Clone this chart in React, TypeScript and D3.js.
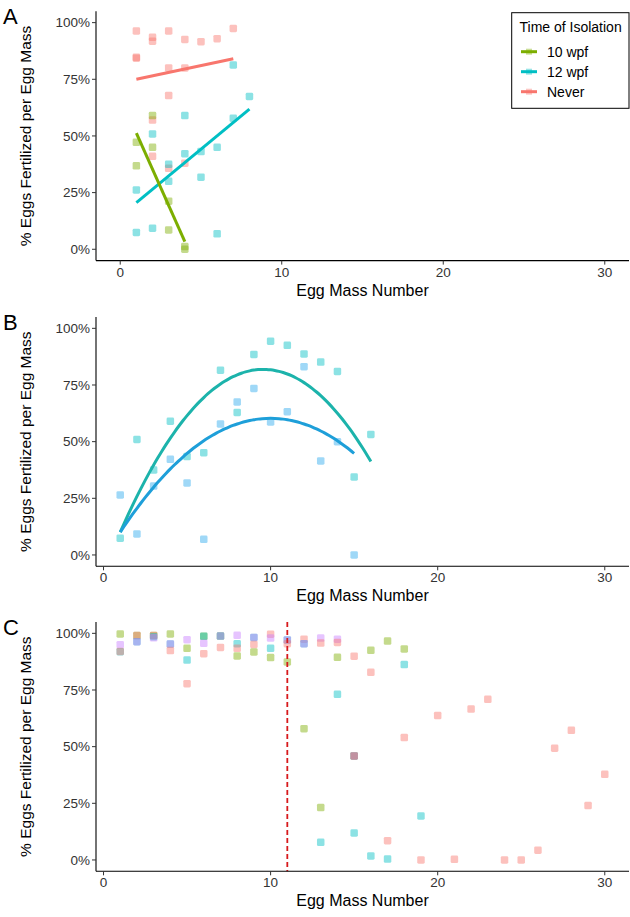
import React from "react";
import * as d3 from "d3";

// ---------- DATA ----------
const groupsA = ["10 wpf", "12 wpf", "Never"];
const colorsA: Record<string, string> = { "10 wpf": "#7CAE00", "12 wpf": "#00BFC4", Never: "#F8766D" };

// Panel A points [x, y, group]
const pointsA: [number, number, string][] = [
  [1, 0.963, "Never"], [1, 0.847, "Never"], [1, 0.843, "Never"],
  [2, 0.935, "Never"], [2, 0.918, "Never"], [2, 0.57, "Never"], [2, 0.41, "Never"],
  [3, 0.963, "Never"], [3, 0.8, "Never"], [3, 0.678, "Never"], [3, 0.357, "Never"],
  [4, 0.926, "Never"], [4, 0.8, "Never"], [4, 0.38, "Never"],
  [5, 0.916, "Never"], [6, 0.929, "Never"], [7, 0.974, "Never"],
  [1, 0.472, "10 wpf"], [1, 0.368, "10 wpf"], [2, 0.59, "10 wpf"], [2, 0.45, "10 wpf"],
  [3, 0.212, "10 wpf"], [3, 0.085, "10 wpf"], [4, 0.012, "10 wpf"], [4, 0.0, "10 wpf"],
  [1, 0.262, "12 wpf"], [1, 0.074, "12 wpf"], [2, 0.509, "12 wpf"], [2, 0.093, "12 wpf"],
  [3, 0.375, "12 wpf"], [3, 0.3, "12 wpf"], [4, 0.59, "12 wpf"], [4, 0.422, "12 wpf"],
  [5, 0.431, "12 wpf"], [5, 0.318, "12 wpf"], [6, 0.45, "12 wpf"], [6, 0.068, "12 wpf"],
  [7, 0.813, "12 wpf"], [7, 0.578, "12 wpf"], [8, 0.674, "12 wpf"],
];
// Panel A linear fits: [group, x0, y0, x1, y1]
const fitsA: [string, number, number, number, number][] = [
  ["Never", 1, 0.75, 7, 0.841],
  ["12 wpf", 1, 0.206, 8, 0.618],
  ["10 wpf", 1, 0.512, 4, 0.034],
];

// Panel B (12 wpf, two females)
const colorsB: Record<string, string> = { F1: "#1CB3AB", F2: "#1E9FD9" };
const pointColorsB: Record<string, string> = { F1: "#00BFC4", F2: "#2AA9EE" };
const pointsB: [number, number, string][] = [
  [1, 0.074, "F1"], [2, 0.51, "F1"], [3, 0.375, "F1"], [4, 0.59, "F1"], [5, 0.434, "F1"],
  [6, 0.451, "F1"], [7, 0.815, "F1"], [8, 0.629, "F1"], [9, 0.885, "F1"], [10, 0.943, "F1"],
  [11, 0.925, "F1"], [12, 0.887, "F1"], [13, 0.851, "F1"], [14, 0.81, "F1"], [15, 0.344, "F1"],
  [16, 0.532, "F1"],
  [1, 0.265, "F2"], [2, 0.093, "F2"], [3, 0.304, "F2"], [4, 0.422, "F2"], [5, 0.318, "F2"],
  [6, 0.069, "F2"], [7, 0.578, "F2"], [8, 0.675, "F2"], [9, 0.735, "F2"], [10, 0.587, "F2"],
  [11, 0.632, "F2"], [12, 0.831, "F2"], [13, 0.415, "F2"], [14, 0.5, "F2"], [15, 0.0, "F2"],
];
// Quadratic fits (vertex form): [group, a, h, k, xStart, xEnd]
const fitsB: [string, number, number, number, number, number][] = [
  ["F1", -0.0098, 9.56, 0.819, 1, 16],
  ["F2", -0.0062, 10, 0.603, 1, 15],
];

// Panel C
const colorsC: Record<string, string> = { g: "#7CAE00", c: "#00BFC4", p: "#F8766D", v: "#C77CFF" };
const pointsC: [number, number, string][] = [
  [1, 0.997, "g"], [1, 0.95, "v"], [1, 0.919, "c"], [1, 0.92, "p"],
  [2, 0.99, "g"], [2, 0.99, "p"], [2, 0.963, "c"], [2, 0.963, "v"],
  [3, 0.99, "g"], [3, 0.99, "p"], [3, 0.985, "c"], [3, 0.98, "v"],
  [4, 0.997, "g"], [4, 0.953, "c"], [4, 0.953, "v"], [4, 0.924, "p"],
  [5, 0.972, "v"], [5, 0.934, "g"], [5, 0.882, "c"], [5, 0.778, "p"],
  [6, 0.987, "g"], [6, 0.987, "c"], [6, 0.956, "v"], [6, 0.91, "p"],
  [7, 0.988, "g"], [7, 0.988, "c"], [7, 0.988, "v"], [7, 0.938, "p"],
  [8, 0.991, "v"], [8, 0.954, "c"], [8, 0.934, "p"], [8, 0.9, "g"],
  [9, 0.982, "c"], [9, 0.982, "v"], [9, 0.951, "p"], [9, 0.918, "g"],
  [10, 0.996, "p"], [10, 0.979, "v"], [10, 0.934, "c"], [10, 0.893, "g"],
  [11, 0.971, "c"], [11, 0.971, "v"], [11, 0.954, "p"], [11, 0.874, "g"],
  [12, 0.974, "p"], [12, 0.954, "c"], [12, 0.954, "v"], [12, 0.579, "g"],
  [13, 0.979, "v"], [13, 0.957, "p"], [13, 0.231, "g"], [13, 0.078, "c"],
  [14, 0.974, "v"], [14, 0.96, "p"], [14, 0.894, "g"], [14, 0.731, "c"],
  [15, 0.899, "p"], [15, 0.459, "g"], [15, 0.459, "c"], [15, 0.459, "v"], [15, 0.459, "p"], [15, 0.119, "c"],
  [16, 0.925, "g"], [16, 0.828, "p"], [16, 0.018, "c"],
  [17, 0.966, "g"], [17, 0.085, "p"], [17, 0.004, "c"],
  [18, 0.931, "g"], [18, 0.862, "c"], [18, 0.54, "p"],
  [19, 0.194, "c"], [19, 0.0, "p"],
  [20, 0.637, "p"], [21, 0.003, "p"], [22, 0.666, "p"], [23, 0.709, "p"],
  [24, 0.0, "p"], [25, 0.0, "p"], [26, 0.043, "p"], [27, 0.493, "p"],
  [28, 0.572, "p"], [29, 0.24, "p"], [30, 0.378, "p"],
];
const cutoffC = [11];

const xTicks = [0, 10, 20, 30];
const yTicks = [0, 0.25, 0.5, 0.75, 1];
const panelLabels = ["A", "B", "C"];
const xTitle = "Egg Mass Number";
const yTitle = "% Eggs Fertilized per Egg Mass";
const legendTitle = "Time of Isolation";

// ---------- LAYOUT ----------
const W = 630, H = 917;
const L = 96, R = 629;
const panels = [
  { top: 11.3, bottom: 260.6, xDomain: [-1.5, 31.5] },
  { top: 317, bottom: 566.3, xDomain: [-0.45, 31.45] },
  { top: 622, bottom: 871.3, xDomain: [-0.45, 31.45] },
];
const FONT = "'Liberation Sans', Arial, Helvetica, sans-serif";
const PT = 7.5;
const ALPHA = 0.45;

function Axes({ p, label }: { p: any; label: string }) {
  const x = d3.scaleLinear().domain(p.xDomain).range([L, R]);
  const y = d3.scaleLinear().domain([-0.05, 1.05]).range([p.bottom, p.top]);
  const fmt = d3.format(".0%");
  return (
    <g>
      <line x1={L} x2={R} y1={p.bottom} y2={p.bottom} stroke="#000" strokeWidth={1.1} />
      <line x1={L} x2={L} y1={p.top} y2={p.bottom} stroke="#000" strokeWidth={1.1} />
      {xTicks.map((t) => (
        <g key={"x" + t}>
          <line x1={x(t)} x2={x(t)} y1={p.bottom} y2={p.bottom + 4} stroke="#333" strokeWidth={1} />
          <text x={x(t)} y={p.bottom + 16} textAnchor="middle" fontSize={13.5} fill="#333">{t}</text>
        </g>
      ))}
      {yTicks.map((t) => (
        <g key={"y" + t}>
          <line x1={L - 4} x2={L} y1={y(t)} y2={y(t)} stroke="#333" strokeWidth={1} />
          <text x={L - 6} y={y(t) + 4.8} textAnchor="end" fontSize={13.5} fill="#333">{fmt(t)}</text>
        </g>
      ))}
      <text x={(L + R) / 2} y={p.bottom + 35} textAnchor="middle" fontSize={16} fill="#000">{xTitle}</text>
      <text transform={`translate(31,${(p.top + p.bottom) / 2}) rotate(-90)`} textAnchor="middle" fontSize={15.5} fill="#000">{yTitle}</text>
      <text x={3} y={p.top + 13} fontSize={22} fill="#000">{label}</text>
    </g>
  );
}

function Pts({ p, data, colors }: { p: any; data: [number, number, string][]; colors: Record<string, string> }) {
  const x = d3.scaleLinear().domain(p.xDomain).range([L, R]);
  const y = d3.scaleLinear().domain([-0.05, 1.05]).range([p.bottom, p.top]);
  return (
    <g>
      {data.map((d, i) => (
        <rect key={i} x={x(d[0]) - PT / 2} y={y(d[1]) - PT / 2} width={PT} height={PT} rx={1.4}
          fill={colors[d[2]]} fillOpacity={ALPHA} />
      ))}
    </g>
  );
}

export default function App() {
  const [pA, pB, pC] = panels;
  const xA = d3.scaleLinear().domain(pA.xDomain).range([L, R]);
  const yA = d3.scaleLinear().domain([-0.05, 1.05]).range([pA.bottom, pA.top]);
  const xB = d3.scaleLinear().domain(pB.xDomain).range([L, R]);
  const yB = d3.scaleLinear().domain([-0.05, 1.05]).range([pB.bottom, pB.top]);
  const xC = d3.scaleLinear().domain(pC.xDomain).range([L, R]);

  const curve = d3.line<number[]>().x((d) => xB(d[0])).y((d) => yB(d[1])).curve(d3.curveBasis);

  return (
    <div style={{ position: "absolute", left: 0, top: 0 }}>
      <svg width={W} height={H} style={{ display: "block", fontFamily: FONT }}>
        <rect x={0} y={0} width={W} height={H} fill="#fff" />
        {/* Panel A */}
        <Pts p={pA} data={pointsA} colors={colorsA} />
        {fitsA.map((f) => (
          <line key={f[0]} x1={xA(f[1])} y1={yA(f[2])} x2={xA(f[3])} y2={yA(f[4])}
            stroke={colorsA[f[0]]} strokeWidth={3} strokeLinecap="butt" />
        ))}
        <Axes p={pA} label={panelLabels[0]} />
        <g>
          <rect x={511.7} y={12.7} width={117.3} height={95.6} fill="#fff" stroke="#000" strokeWidth={1} />
          <text x={519.5} y={31.5} fontSize={14} fill="#000">{legendTitle}</text>
          {groupsA.map((g, i) => (
            <g key={g}>
              <line x1={521} x2={537} y1={51.7 + i * 20} y2={51.7 + i * 20} stroke={colorsA[g]} strokeWidth={3} />
              <rect x={526} y={48.7 + i * 20} width={6} height={6} fill={colorsA[g]} fillOpacity={0.4} />
              <text x={547} y={56.5 + i * 20} fontSize={14} fill="#000">{g}</text>
            </g>
          ))}
        </g>

        {/* Panel B */}
        <Pts p={pB} data={pointsB} colors={pointColorsB} />
        {fitsB.map((f) => {
          const xs = d3.range(f[4], f[5] + 0.001, 0.25);
          const pts = xs.map((v) => [v, f[1] * (v - f[2]) * (v - f[2]) + f[3]]);
          return <path key={f[0]} d={curve(pts) || ""} fill="none" stroke={colorsB[f[0]]} strokeWidth={3} />;
        })}
        <Axes p={pB} label={panelLabels[1]} />

        {/* Panel C */}
        <Pts p={pC} data={pointsC} colors={colorsC} />
        {cutoffC.map((c) => (
          <line key={c} x1={xC(c)} x2={xC(c)} y1={pC.top} y2={pC.bottom} stroke="#D7191C" strokeWidth={1.8} strokeDasharray="5,3" />
        ))}
        <Axes p={pC} label={panelLabels[2]} />
      </svg>
    </div>
  );
}
